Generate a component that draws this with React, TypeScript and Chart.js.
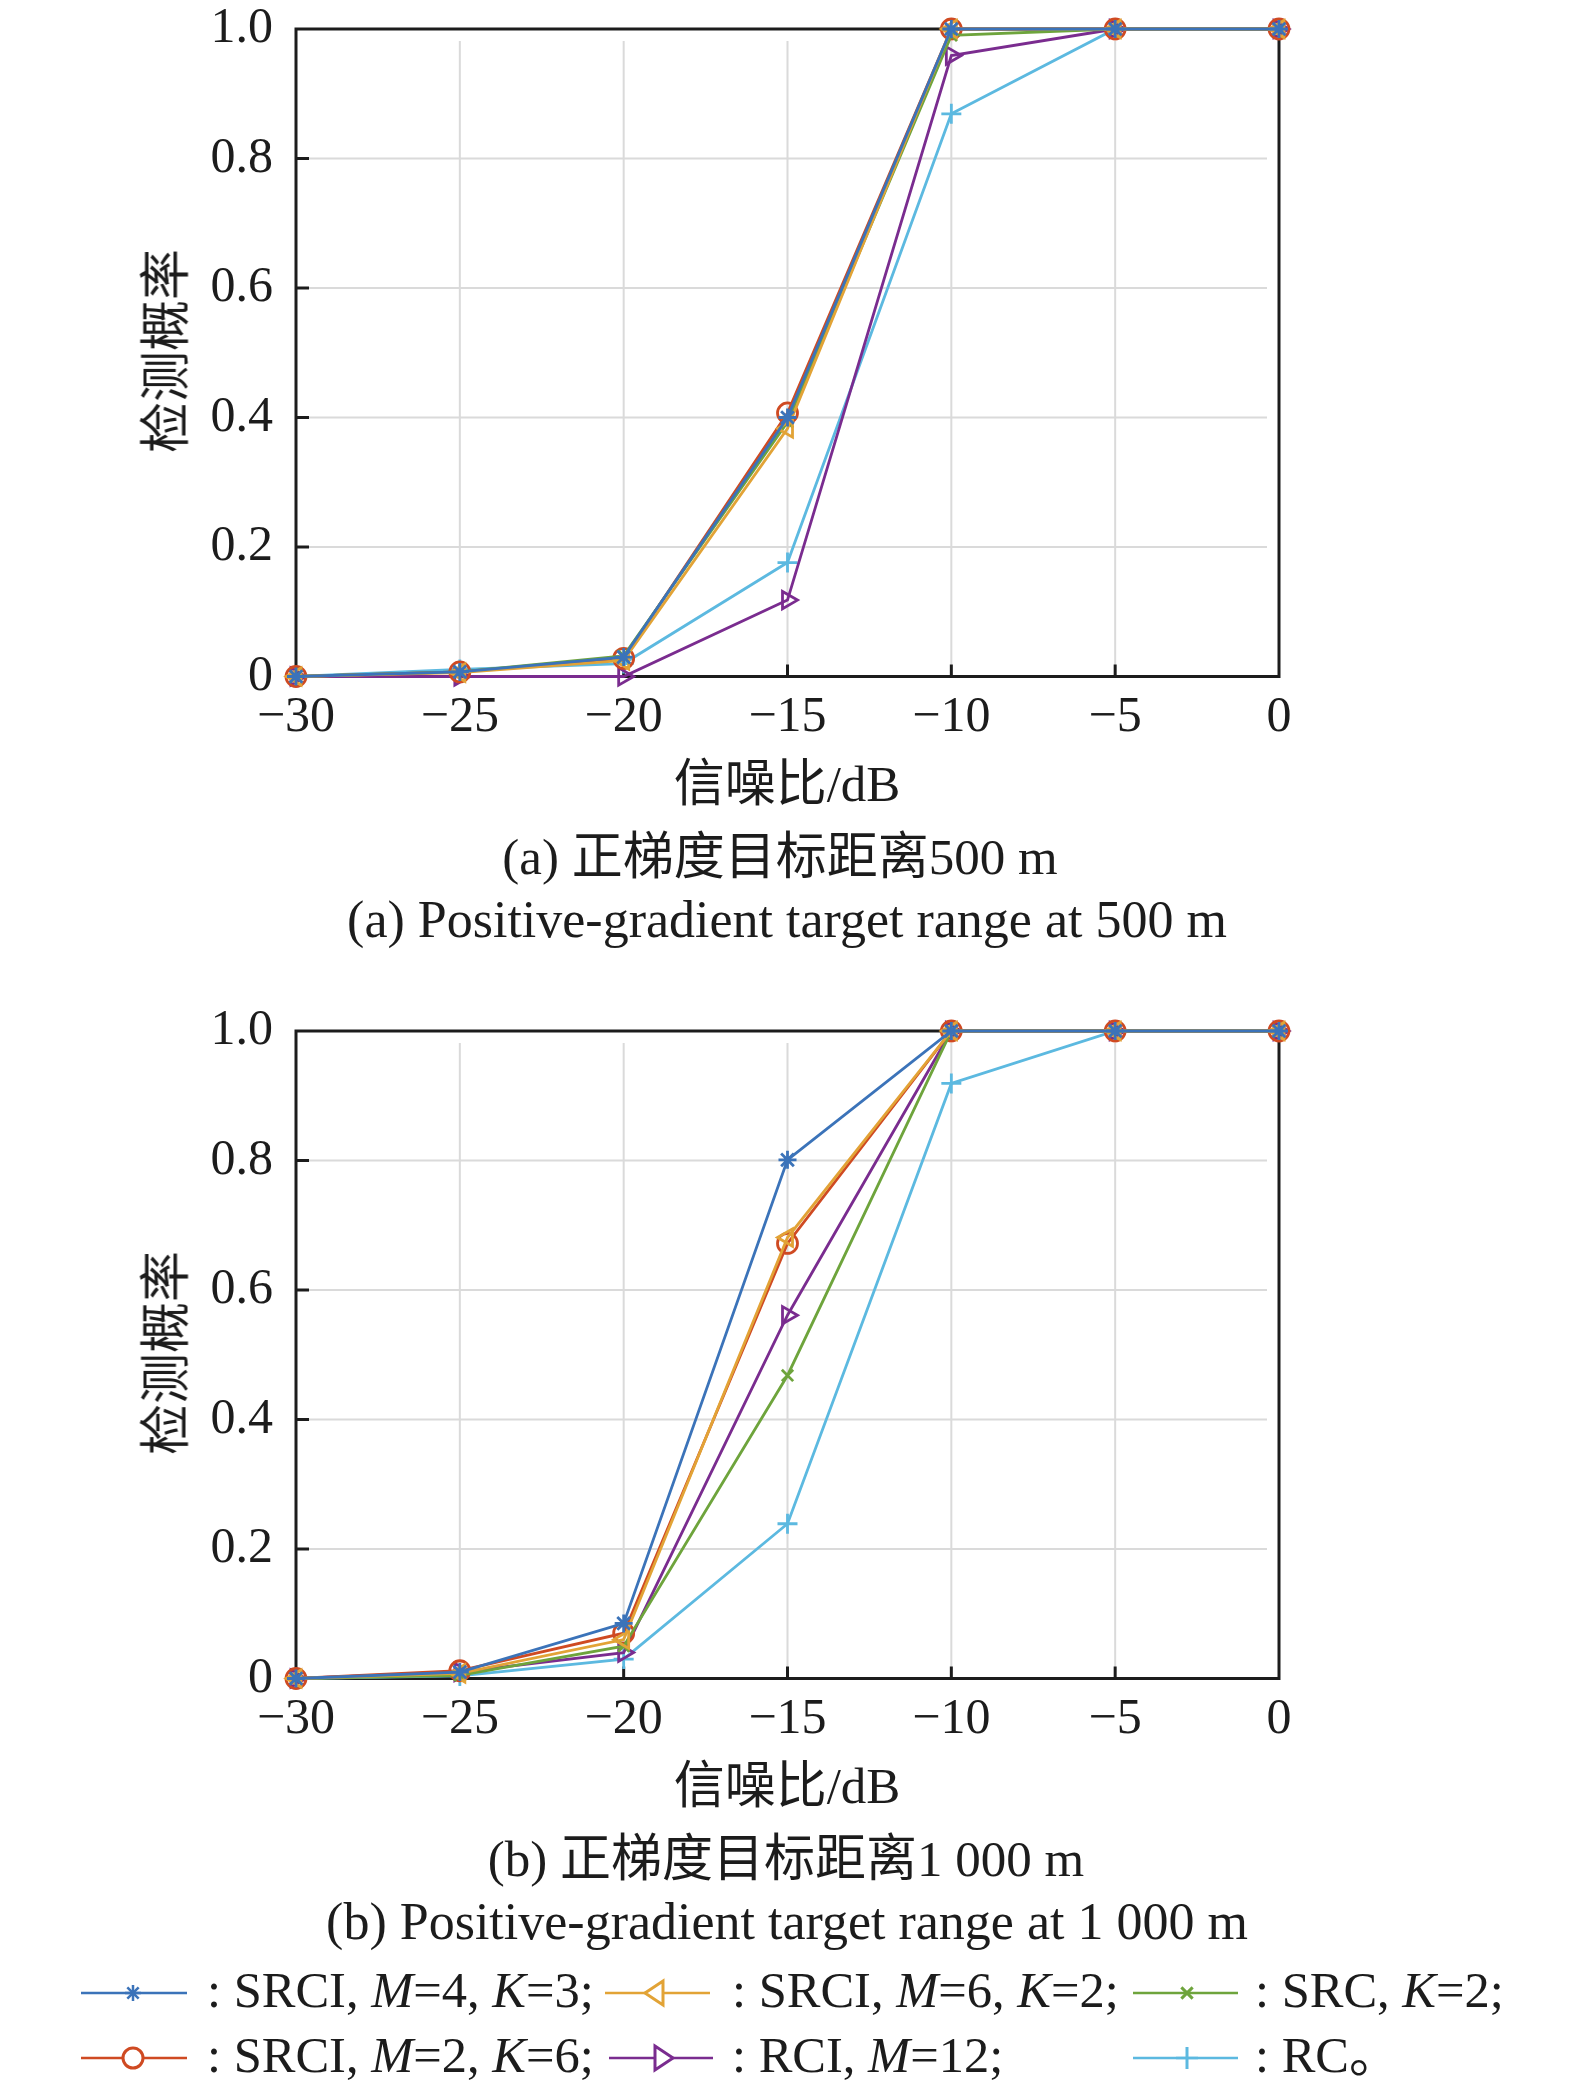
import React, { useEffect, useRef } from 'react';
import { Chart, registerables, ChartConfiguration, Plugin } from 'chart.js';

Chart.register(...registerables);

const FONT = "'Liberation Serif', 'Times New Roman', 'Noto Sans CJK SC', serif";

// x axis: SNR in dB
const snr = [-30, -25, -20, -15, -10, -5, 0];
const xTickLabels = ['−30', '−25', '−20', '−15', '−10', '−5', '0'];
const yTickLabels = ['0', '0.2', '0.4', '0.6', '0.8', '1.0'];

// (a) target range 500 m
const aSrciM4K3 = [0, 0.007, 0.03, 0.4, 1, 1, 1];
const aSrciM6K2 = [0, 0.006, 0.025, 0.383, 1, 1, 1];
const aSrcK2 = [0, 0.007, 0.032, 0.393, 0.99, 1, 1];
const aSrciM2K6 = [0, 0.007, 0.028, 0.407, 1, 1, 1];
const aRciM12 = [0, 0, 0, 0.118, 0.959, 1, 1];
const aRc = [0, 0.011, 0.02, 0.176, 0.869, 1, 1];

// (b) target range 1 000 m
const bSrciM4K3 = [0, 0.01, 0.085, 0.801, 1, 1, 1];
const bSrciM6K2 = [0, 0.008, 0.06, 0.681, 1, 1, 1];
const bSrcK2 = [0, 0.005, 0.05, 0.468, 1, 1, 1];
const bSrciM2K6 = [0, 0.012, 0.07, 0.672, 1, 1, 1];
const bRciM12 = [0, 0.01, 0.04, 0.561, 1, 1, 1];
const bRc = [0, 0.004, 0.03, 0.239, 0.919, 1, 1];

type Marker = 'star' | 'triLeft' | 'crossRot' | 'circle' | 'triRight' | 'cross';

interface SeriesStyle {
  color: string;
  marker: Marker;
}

// order: SRCI M=4 K=3, SRCI M=6 K=2, SRC K=2, SRCI M=2 K=6, RCI M=12, RC
const styles: SeriesStyle[] = [
  { color: '#3b73b9', marker: 'star' },
  { color: '#e2a336', marker: 'triLeft' },
  { color: '#6ea43c', marker: 'crossRot' },
  { color: '#cf4a22', marker: 'circle' },
  { color: '#7a2c8f', marker: 'triRight' },
  { color: '#5cb9e0', marker: 'cross' },
];

const seriesA = [aSrciM4K3, aSrciM6K2, aSrcK2, aSrciM2K6, aRciM12, aRc];
const seriesB = [bSrciM4K3, bSrciM6K2, bSrcK2, bSrciM2K6, bRciM12, bRc];

const framePlugin: Plugin<'line'> = {
  id: 'frame',
  beforeDatasetsDraw(chart) {
    const { ctx, chartArea: a, scales } = chart;
    const xs = scales.x;
    const ys = scales.y;
    const seg = (x1: number, y1: number, x2: number, y2: number) => {
      ctx.beginPath();
      ctx.moveTo(x1, y1);
      ctx.lineTo(x2, y2);
      ctx.stroke();
    };
    const inner = snr.slice(1, -1);
    const yInner = ys.ticks.map((t) => t.value).filter((v) => v > 0.001 && v < 0.999);
    ctx.save();
    ctx.strokeStyle = '#dadada';
    ctx.lineWidth = 2;
    inner.forEach((v) => {
      const px = xs.getPixelForValue(v);
      seg(px, a.top + 12, px, a.bottom);
    });
    yInner.forEach((v) => {
      const py = ys.getPixelForValue(v);
      seg(a.left, py, a.right - 12, py);
    });
    ctx.strokeStyle = '#1c1c1c';
    ctx.lineWidth = 3;
    ctx.strokeRect(a.left, a.top, a.right - a.left, a.bottom - a.top);
    inner.forEach((v) => {
      const px = xs.getPixelForValue(v);
      seg(px, a.bottom, px, a.bottom - 12);
    });
    yInner.forEach((v) => {
      const py = ys.getPixelForValue(v);
      seg(a.left, py, a.left + 13, py);
    });
    ctx.restore();
  },
};

const pointOpts = (m: Marker) => {
  switch (m) {
    case 'star':
      return { pointStyle: 'star', pointRadius: 9, pointRotation: 0 };
    case 'triLeft':
      return { pointStyle: 'triangle', pointRadius: 10, pointRotation: -90 };
    case 'triRight':
      return { pointStyle: 'triangle', pointRadius: 10, pointRotation: 90 };
    case 'crossRot':
      return { pointStyle: 'crossRot', pointRadius: 8, pointRotation: 0 };
    case 'circle':
      return { pointStyle: 'circle', pointRadius: 10, pointRotation: 0 };
    default:
      return { pointStyle: 'cross', pointRadius: 10, pointRotation: 0 };
  }
};

const Panel: React.FC<{ series: number[][]; top: number }> = ({ series, top }) => {
  const ref = useRef<HTMLCanvasElement | null>(null);

  useEffect(() => {
    if (!ref.current) return;
    const config: ChartConfiguration<'line'> = {
      type: 'line',
      data: {
        datasets: series.map((vals, i) => ({
          data: snr.map((x, j) => ({ x, y: vals[j] })),
          borderColor: styles[i].color,
          borderWidth: 2.8,
          pointBorderColor: styles[i].color,
          pointBackgroundColor: 'rgba(255,255,255,0)',
          pointBorderWidth: 2.8,
          tension: 0,
          clip: false as any,
          ...(pointOpts(styles[i].marker) as any),
        })),
      },
      options: {
        animation: false,
        responsive: true,
        maintainAspectRatio: false,
        devicePixelRatio: 1,
        layout: { padding: { left: 0, right: 296, top: 29, bottom: 0 } },
        plugins: { legend: { display: false }, tooltip: { enabled: false } },
        scales: {
          x: {
            type: 'linear',
            min: -30,
            max: 0,
            grid: { display: false, drawTicks: false },
            border: { display: false },
            ticks: {
              stepSize: 5,
              autoSkip: false,
              maxRotation: 0,
              padding: 11,
              color: '#1c1c1c',
              font: { family: FONT, size: 50, lineHeight: 1.2 },
              callback: (v) => xTickLabels[snr.indexOf(Number(v))] ?? '',
            },
            afterFit: (s) => {
              s.height = 83.5;
              s.paddingLeft = 0;
              s.paddingRight = 0;
            },
          },
          y: {
            type: 'linear',
            min: 0,
            max: 1,
            grid: { display: false, drawTicks: false },
            border: { display: false },
            ticks: {
              stepSize: 0.2,
              padding: 23,
              color: '#1c1c1c',
              font: { family: FONT, size: 50, lineHeight: 1.2 },
              callback: (_v, i) => yTickLabels[i] ?? '',
            },
            afterFit: (s) => {
              s.width = 296;
              s.paddingTop = 0;
              s.paddingBottom = 0;
            },
          },
        },
      },
      plugins: [framePlugin],
    };
    const chart = new Chart(ref.current, config);
    return () => chart.destroy();
  }, [series]);

  return (
    <div style={{ position: 'absolute', left: 0, top, width: 1575, height: 760 }}>
      <canvas ref={ref} />
    </div>
  );
};

const Text: React.FC<{ x: number; y: number; size?: number; rotate?: boolean; children: React.ReactNode }> = ({
  x,
  y,
  size = 51,
  rotate,
  children,
}) => (
  <div
    style={{
      position: 'absolute',
      left: x,
      top: y,
      transform: `translate(-50%, -50%)${rotate ? ' rotate(-90deg)' : ''}`,
      fontFamily: FONT,
      fontSize: size,
      lineHeight: 1,
      whiteSpace: 'nowrap',
      color: '#1c1c1c',
    }}
  >
    {children}
  </div>
);

const MarkerSvg: React.FC<{ x1: number; x2: number; mx: number; y: number; s: SeriesStyle }> = ({ x1, x2, mx, y, s }) => {
  const pad = 16;
  const w = x2 - x1 + pad * 2;
  const cx = mx - x1 + pad;
  const cy = pad;
  const c = s.color;
  let shape: React.ReactNode = null;
  const sw = 2.5;
  if (s.marker === 'star') {
    shape = [0, 45, 90, 135].map((a) => (
      <line
        key={a}
        x1={cx - 8 * Math.cos((a * Math.PI) / 180)}
        y1={cy - 8 * Math.sin((a * Math.PI) / 180)}
        x2={cx + 8 * Math.cos((a * Math.PI) / 180)}
        y2={cy + 8 * Math.sin((a * Math.PI) / 180)}
        stroke={c}
        strokeWidth={sw}
      />
    ));
  } else if (s.marker === 'crossRot') {
    shape = [45, 135].map((a) => (
      <line
        key={a}
        x1={cx - 8 * Math.cos((a * Math.PI) / 180)}
        y1={cy - 8 * Math.sin((a * Math.PI) / 180)}
        x2={cx + 8 * Math.cos((a * Math.PI) / 180)}
        y2={cy + 8 * Math.sin((a * Math.PI) / 180)}
        stroke={c}
        strokeWidth={3}
      />
    ));
  } else if (s.marker === 'cross') {
    shape = (
      <>
        <line x1={cx} y1={cy - 11} x2={cx} y2={cy + 11} stroke={c} strokeWidth={3} />
        <line x1={cx - 11} y1={cy} x2={cx + 11} y2={cy} stroke={c} strokeWidth={sw} />
      </>
    );
  } else if (s.marker === 'circle') {
    shape = <circle cx={cx} cy={cy} r={10} fill="white" stroke={c} strokeWidth={3} />;
  } else if (s.marker === 'triLeft') {
    shape = (
      <polygon
        points={`${cx - 11},${cy} ${cx + 7},${cy - 12} ${cx + 7},${cy + 12}`}
        fill="white"
        stroke={c}
        strokeWidth={3}
      />
    );
  } else {
    shape = (
      <polygon
        points={`${cx + 11},${cy} ${cx - 7},${cy - 12} ${cx - 7},${cy + 12}`}
        fill="white"
        stroke={c}
        strokeWidth={3}
      />
    );
  }
  return (
    <svg
      width={w}
      height={pad * 2}
      style={{ position: 'absolute', left: x1 - pad, top: y - pad }}
    >
      <line x1={pad} y1={cy} x2={w - pad} y2={cy} stroke={c} strokeWidth={2.5} />
      {shape}
    </svg>
  );
};

const LegendText: React.FC<{ x: number; y: number; children: React.ReactNode }> = ({ x, y, children }) => (
  <div
    style={{
      position: 'absolute',
      left: x,
      top: y - 3,
      transform: 'translateY(-50%)',
      fontFamily: FONT,
      fontSize: 50.5,
      lineHeight: 1,
      whiteSpace: 'nowrap',
      color: '#1c1c1c',
    }}
  >
    {children}
  </div>
);

const PB = 1002;

const App: React.FC = () => {
  const r1 = 1993;
  const r2 = 2058;
  return (
    <div
      style={{
        position: 'absolute',
        left: 0,
        top: 0,
        width: 1575,
        height: 2089,
        background: '#fff',
        overflow: 'hidden',
      }}
    >
      <Panel series={seriesA} top={0} />
      <Panel series={seriesB} top={PB} />

      <Text x={167} y={351} rotate>检测概率</Text>
      <Text x={787} y={784}>信噪比/dB</Text>
      <Text x={780} y={857}>(a) 正梯度目标距离500 m</Text>
      <Text x={787} y={920} size={52}>(a) Positive-gradient target range at 500 m</Text>

      <Text x={167} y={351 + PB} rotate>检测概率</Text>
      <Text x={787} y={784 + PB}>信噪比/dB</Text>
      <Text x={786} y={857 + PB}>(b) 正梯度目标距离1 000 m</Text>
      <Text x={787} y={920 + PB} size={52}>(b) Positive-gradient target range at 1 000 m</Text>

      <MarkerSvg x1={81} x2={187} mx={133} y={r1} s={styles[0]} />
      <LegendText x={207} y={r1}>
        : SRCI, <i>M</i>=4, <i>K</i>=3;
      </LegendText>
      <MarkerSvg x1={605} x2={710} mx={656} y={r1} s={styles[1]} />
      <LegendText x={732} y={r1}>
        : SRCI, <i>M</i>=6, <i>K</i>=2;
      </LegendText>
      <MarkerSvg x1={1133} x2={1238} mx={1187} y={r1} s={styles[2]} />
      <LegendText x={1255} y={r1}>
        : SRC, <i>K</i>=2;
      </LegendText>

      <MarkerSvg x1={81} x2={187} mx={133} y={r2} s={styles[3]} />
      <LegendText x={207} y={r2}>
        : SRCI, <i>M</i>=2, <i>K</i>=6;
      </LegendText>
      <MarkerSvg x1={609} x2={713} mx={662} y={r2} s={styles[4]} />
      <LegendText x={732} y={r2}>
        : RCI, <i>M</i>=12;
      </LegendText>
      <MarkerSvg x1={1133} x2={1238} mx={1187} y={r2} s={styles[5]} />
      <LegendText x={1255} y={r2}>
        : RC。
      </LegendText>
    </div>
  );
};

export default App;
